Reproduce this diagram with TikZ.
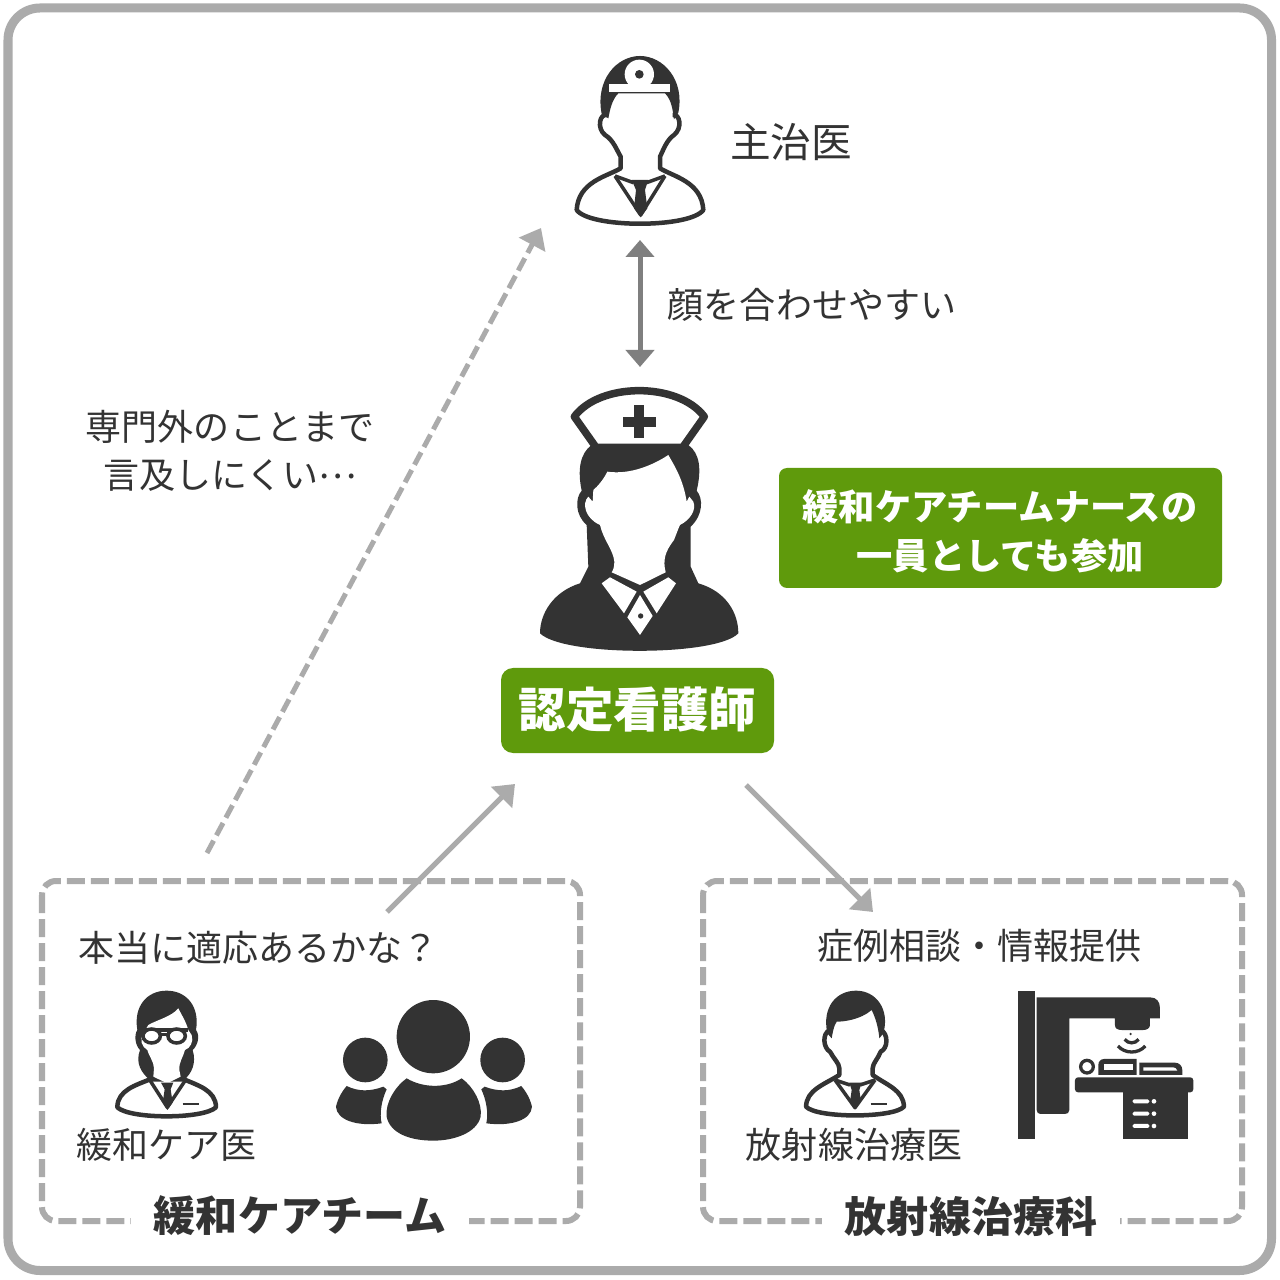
\documentclass[tikz,border=0pt]{standalone}
\usepackage{fontspec}
\setmainfont{Noto Sans CJK JP}
\usetikzlibrary{arrows.meta}
\definecolor{ink}{HTML}{333333}
\definecolor{framegray}{HTML}{ABABAB}
\definecolor{arrowgray}{HTML}{7F7F7F}
\definecolor{leaf}{HTML}{5F9A0C}
\tikzset{
  txt/.style={text=ink,inner sep=0pt,font=\fontsize{10.24pt}{13.6pt}\selectfont,align=center},
  txtbig/.style={text=ink,inner sep=0pt,font=\fontsize{11.55pt}{15pt}\selectfont},
  boxlabel/.style={text=ink,inner sep=0pt,fill=white,inner xsep=0.23cm,font=\bfseries\fontsize{11.95pt}{15pt}\selectfont},
  greenbox/.style={fill=leaf,rounded corners=0.1cm,text=white,inner sep=0pt,align=center},
  dashbox/.style={draw=framegray,line width=0.06cm,rounded corners=0.14cm,dash pattern=on 0.18cm off 0.06cm},
  conn/.style={draw=framegray,line width=0.05cm,-{Triangle[length=0.19cm,width=0.29cm]}},
  conndash/.style={conn,dash pattern=on 0.14cm off 0.06cm},
  conndouble/.style={draw=arrowgray,line width=0.05cm,{Triangle[length=0.17cm,width=0.28cm]}-{Triangle[length=0.17cm,width=0.28cm]}},
  outl/.style={draw=ink,fill=white,line width=0.045cm,line join=round},
  thin line/.style={draw=ink,line width=0.035cm},
  inkfill/.style={fill=ink},
}
\begin{document}
\begin{tikzpicture}[x=0.01cm,y=-0.01cm]
\path[use as bounding box,fill=white] (0,0) rectangle (1280,1280);
\draw[framegray,line width=0.09cm,rounded corners=0.32cm] (8,8) rectangle (1271.5,1270.5);

% attending doctor
\begin{scope}[shift={(550,40)},scale=0.3333]
\path[outl] (172,225) .. controls (148,220) and (140,265) .. (165,285)
 .. controls (190,300) and (200,330) .. (212,350) -- (212,385)
 .. controls (170,410) and (85,425) .. (80,510)
 .. controls (120,565) and (420,565) .. (460,510)
 .. controls (455,425) and (370,410) .. (330,385) -- (330,350)
 .. controls (340,330) and (350,300) .. (372,285)
 .. controls (398,265) and (390,220) .. (368,225);
\fill[inkfill] (155,222) .. controls (135,120) and (200,48) .. (270,48)
 .. controls (340,48) and (405,120) .. (385,218) -- (372,238)
 .. controls (368,210) and (365,180) .. (345,160) -- (205,160)
 .. controls (185,180) and (180,210) .. (175,235) -- cycle;
\fill[white] (178,132) rectangle (360,157);
\fill[white] (268,103) circle[radius=44];
\fill[inkfill] (268,103) circle[radius=13];
\draw[thin line,line join=round] (195,408) -- (272,525) -- (345,408);
\draw[thin line] (195,408) -- (250,428) (345,408) -- (290,428);
\fill[inkfill] (245,420) -- (295,420) -- (285,450) -- (292,505) -- (272,532) -- (252,505) -- (258,450) -- cycle;
\end{scope}

% nurse
\begin{scope}[shift={(520,370)},scale=0.3333]
\fill[inkfill] (215,225) .. controls (180,250) and (172,300) .. (185,362)
 .. controls (165,385) and (165,435) .. (200,465)
 -- (205,590) -- (180,640)
 .. controls (100,665) and (60,730) .. (60,790)
 .. controls (130,860) and (590,860) .. (655,790)
 .. controls (655,730) and (620,665) .. (535,640)
 -- (512,590) -- (512,470)
 .. controls (550,435) and (550,385) .. (530,362)
 .. controls (545,300) and (540,250) .. (505,225) -- cycle;
\fill[white] (445,255) .. controls (400,285) and (330,315) .. (262,305)
 .. controls (250,330) and (232,350) .. (220,360) -- (218,395) -- (205,380)
 .. controls (185,400) and (195,445) .. (240,465)
 .. controls (250,510) and (280,540) .. (283,575)
 .. controls (283,590) and (280,600) .. (275,607)
 -- (360,645) -- (437,607)
 .. controls (428,570) and (435,545) .. (462,510)
 .. controls (470,490) and (475,475) .. (480,465)
 .. controls (510,450) and (530,420) .. (520,395) -- (508,380) -- (500,395)
 .. controls (490,330) and (465,290) .. (445,255) -- cycle;
\fill[white] (245,640) -- (270,622) -- (350,665) -- (312,730) -- cycle;
\fill[white] (370,665) -- (445,622) -- (468,640) -- (410,730) -- cycle;
\fill[white] (360,675) -- (398,738) -- (360,795) -- (322,742) -- cycle;
\fill[inkfill] (362,738) circle[radius=8];
\path[draw=ink,fill=white,line width=0.075cm,line join=round] (163,140) .. controls (240,36) and (475,36) .. (553,140) -- (488,232) -- (228,232) -- cycle;
\fill[inkfill] (342,105) rectangle (372,205);
\fill[inkfill] (308,142) rectangle (407,170);
\end{scope}

% palliative-care doctor
\begin{scope}[shift={(60,970)},scale=0.3333]
\path[outl] (270,328) .. controls (230,345) and (172,360) .. (172,412)
 .. controls (210,448) and (430,448) .. (468,412)
 .. controls (468,360) and (410,345) .. (372,328) -- cycle;
\fill[inkfill] (232,180) .. controls (220,110) and (260,62) .. (320,62)
 .. controls (380,62) and (420,110) .. (408,180)
 .. controls (420,195) and (415,225) .. (398,240)
 .. controls (410,280) and (395,310) .. (372,330) -- (270,330)
 .. controls (245,310) and (225,280) .. (240,240)
 .. controls (225,225) and (222,195) .. (232,180) -- cycle;
\fill[white] (265,165) .. controls (290,150) and (335,140) .. (355,115)
 .. controls (365,135) and (378,155) .. (385,180)
 -- (395,195) .. controls (402,215) and (390,235) .. (375,240)
 .. controls (370,260) and (355,280) .. (358,300) -- (362,320)
 -- (322,340) -- (280,320) -- (282,295)
 .. controls (282,275) and (265,255) .. (262,240)
 .. controls (245,230) and (238,210) .. (250,190) -- cycle;
\draw[ink,line width=0.04cm] (250,180) -- (385,180);
\path[draw=ink,fill=white,line width=0.035cm] (275,198) ellipse[x radius=26,y radius=21];
\path[draw=ink,fill=white,line width=0.035cm] (350,198) ellipse[x radius=26,y radius=21];
\draw[ink,line width=0.03cm] (300,192) -- (325,192);
\draw[thin line,line join=round] (268,328) -- (322,412) -- (378,328);
\fill[inkfill] (303,338) -- (340,338) -- (332,358) -- (338,398) -- (322,420) -- (308,398) -- (314,358) -- cycle;
\draw[ink,line width=0.025cm] (368,402) -- (416,402);
\end{scope}

% team group
\begin{scope}[shift={(60,970)},scale=0.3333]
\fill[inkfill] (1120,200) circle[radius=110];
\fill[inkfill] (916,270) circle[radius=67];
\fill[inkfill] (1328,270) circle[radius=67];
\fill[inkfill] (1040,325) .. controls (1090,355) and (1160,355) .. (1205,325)
 .. controls (1240,350) and (1268,400) .. (1262,440)
 .. controls (1250,490) and (1180,512) .. (1120,512)
 .. controls (1050,512) and (990,490) .. (980,440)
 .. controls (975,400) and (1005,350) .. (1040,325) -- cycle;
\fill[inkfill] (860,348) .. controls (895,365) and (930,365) .. (970,350)
 -- (980,358) .. controls (965,390) and (958,430) .. (965,460)
 .. controls (890,470) and (830,450) .. (828,410)
 .. controls (835,380) and (850,360) .. (860,348) -- cycle;
\fill[inkfill] (1384,348) .. controls (1349,365) and (1314,365) .. (1274,350)
 -- (1264,358) .. controls (1279,390) and (1286,430) .. (1279,460)
 .. controls (1354,470) and (1414,450) .. (1416,410)
 .. controls (1409,380) and (1394,360) .. (1384,348) -- cycle;
\end{scope}

% radiation oncologist
\begin{scope}[shift={(780,970)},scale=0.3333]
\path[outl] (150,180) .. controls (125,190) and (130,235) .. (150,245)
 .. controls (160,265) and (178,280) .. (178,295) -- (178,315)
 .. controls (130,345) and (80,360) .. (78,410)
 .. controls (110,445) and (340,445) .. (372,410)
 .. controls (370,360) and (320,345) .. (278,315) -- (278,295)
 .. controls (278,280) and (295,265) .. (302,245)
 .. controls (325,235) and (325,190) .. (302,180);
\fill[inkfill] (142,190) .. controls (125,110) and (170,62) .. (228,62)
 .. controls (290,62) and (330,120) .. (310,190) -- (298,205)
 .. controls (295,170) and (285,140) .. (275,120)
 .. controls (240,150) and (190,155) .. (170,155)
 .. controls (160,170) and (158,190) .. (155,205) -- cycle;
\draw[thin line,line join=round] (165,330) -- (225,413) -- (285,330);
\draw[thin line] (165,330) -- (210,345) (285,330) -- (240,345);
\fill[inkfill] (208,338) -- (245,338) -- (238,360) -- (243,395) -- (225,418) -- (210,395) -- (215,360) -- cycle;
\draw[ink,line width=0.025cm] (272,402) -- (322,402);
\end{scope}

% linac
\begin{scope}[shift={(780,970)},scale=0.3333]
\fill[inkfill] (715,62) rectangle (765,508);
\fill[inkfill] (770,82) -- (1110,82) .. controls (1130,82) and (1140,95) .. (1140,115) -- (1140,145) -- (1110,145) -- (1110,165) .. controls (1110,175) and (1100,180) .. (1090,180) -- (1025,180) .. controls (1012,180) and (1005,175) .. (1005,165) -- (1005,145) -- (868,145) -- (868,420) .. controls (868,428) and (862,432) .. (855,432) -- (782,432) .. controls (775,432) and (770,428) .. (770,420) -- cycle;
\fill[inkfill] (1052,192) circle[radius=4];
\draw[ink,line width=0.033cm] (1034,208) .. controls (1045,222) and (1065,222) .. (1076,208);
\draw[ink,line width=0.033cm] (1014,228) .. controls (1035,252) and (1075,252) .. (1096,228);
\draw[ink,line width=0.033cm] (921,290) circle[radius=19];
\fill[inkfill] (955,315) -- (955,285) .. controls (955,275) and (962,267) .. (972,267) -- (1070,267) -- (1070,315) -- cycle;
\fill[white] (972,283) rectangle (1058,300);
\fill[inkfill] (1078,315) -- (1078,278) -- (1185,278) .. controls (1198,278) and (1207,288) .. (1207,300) -- (1207,315) -- cycle;
\fill[white] (1090,292) -- (1180,292) .. controls (1186,292) and (1190,297) .. (1192,302) -- (1090,302) -- cycle;
\fill[inkfill,rounded corners=0.03cm] (885,322) rectangle (1240,367);
\fill[inkfill] (1028,360) rectangle (1225,508);
\foreach \yy in {394,431,468}{
  \fill[white,rounded corners=0.015cm] (1058,\yy-6) rectangle (1108,\yy+6);
  \fill[white] (1122,\yy) circle[radius=7];
}
\end{scope}

% dashed groups
\path[dashbox] (42,881) rectangle (580,1221);
\path[dashbox] (703,881) rectangle (1242,1221);
\node[boxlabel] (teamlabel) at (300,1216) {緩和ケアチーム};
\node[boxlabel] (radlabel) at (971,1217) {放射線治療科};

% green labels
\path[fill=leaf,rounded corners=0.08cm] (779,468) rectangle (1222,588);
\node[greenbox,fill=none,font=\bfseries\fontsize{10.3pt}{14pt}\selectfont] (teamnurse) at (1000,531.5) {緩和ケアチームナースの\\一員としても参加};
\path[fill=leaf,rounded corners=0.12cm] (501,668) rectangle (774,753);
\node[greenbox,fill=none,font=\bfseries\fontsize{13.5pt}{16pt}\selectfont] (cn) at (637.5,710) {認定看護師};

% texts
\node[txtbig] (attending) at (791,142) {主治医};
\node[txt] (face) at (812,305) {顔を合わせやすい};
\node[txt] (hard) at (230,451) {専門外のことまで\\言及しにくい\raisebox{0.28em}{…}};
\node[txt,anchor=west] (q) at (78,948) {本当に適応あるかな？};
\node[txt] (pcdoc) at (166.5,1145) {緩和ケア医};
\node[txt] (consult) at (979.5,946) {症例相談・情報提供};
\node[txt] (raddoc) at (854,1145) {放射線治療医};

% connectors
\coordinate (docBottom) at (640,240);
\coordinate (nurseTop) at (640,367);
\coordinate (dashStart) at (207,853);
\coordinate (dashEnd) at (541,228);
\coordinate (pcStart) at (387,912);
\coordinate (cnLeft) at (515,784);
\coordinate (cnRight) at (746,785);
\coordinate (radEnd) at (873,912);
\path[conndouble] (docBottom) -- (nurseTop);
\path[conndash] (dashStart) -- (dashEnd);
\path[conn] (pcStart) -- (cnLeft);
\path[conn] (cnRight) -- (radEnd);
\end{tikzpicture}
\end{document}
